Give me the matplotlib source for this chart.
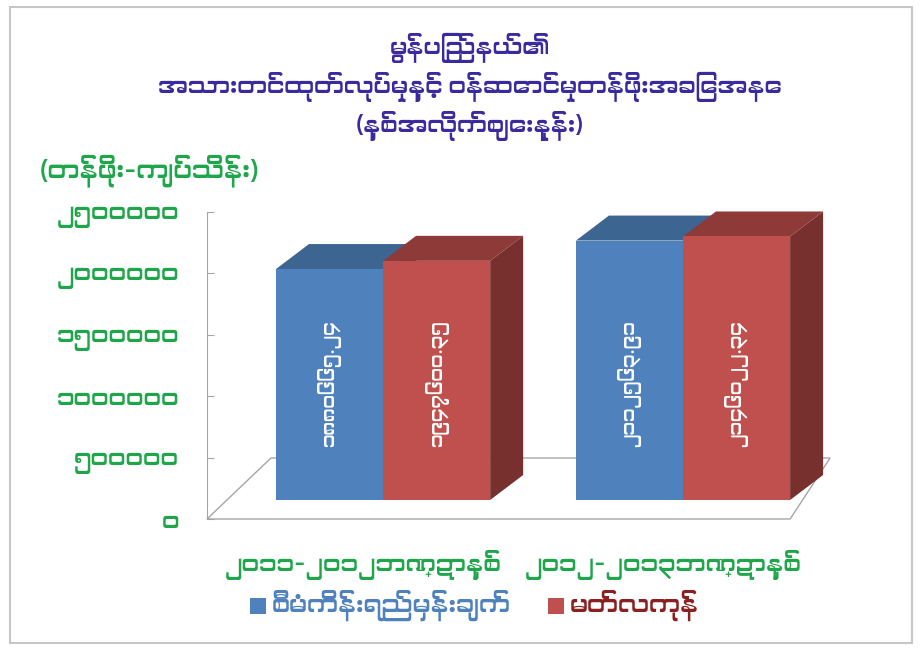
import matplotlib
matplotlib.use("Agg")
import matplotlib.pyplot as plt
from matplotlib import font_manager
from matplotlib.patches import Polygon, Rectangle

# Myanmar text needs a Myanmar-capable font; use one if the system has it
mm_fonts = sorted({f.name for f in font_manager.fontManager.ttflist
                   if any(k in f.name for k in ("Myanmar", "Padauk", "Pyidaungsu", "Zawgyi"))})
FAMILY = mm_fonts + ["DejaVu Sans"]
plt.rcParams["font.family"] = FAMILY

TITLE = "မွန်ပြည်နယ်၏\nအသားတင်ထုတ်လုပ်မှုနှင့် ဝန်ဆောင်မှုတန်ဖိုးအခြေအနေ\n(နှစ်အလိုက်ဈေးနှုန်း)"
UNIT_LABEL = "(တန်ဖိုး-ကျပ်သိန်း)"
CATEGORIES = ["၂၀၁၁-၂၀၁၂ဘဏ္ဍာနှစ်", "၂၀၁၂-၂၀၁၃ဘဏ္ဍာနှစ်"]
SERIES_NAMES = ["စီမံကိန်းရည်မှန်းချက်", "မတ်လကုန်"]
PLAN = [1880665.24, 2112563.91]
ACTUAL = [1947600.35, 2146022.34]
YTICKS = [0, 500000, 1000000, 1500000, 2000000, 2500000]

MM_DIGITS = str.maketrans("0123456789", "၀၁၂၃၄၅၆၇၈၉")


def to_mm(v, fmt="{:.0f}"):
    return fmt.format(v).translate(MM_DIGITS)


GREEN = "#1FA64A"
TITLE_COLOR = "#3A2A9E"
FRONT = ["#4F81BD", "#C0504D"]
TOP = ["#3C6591", "#8E3A38"]
SIDE = ["#34567D", "#77302E"]
LEGEND_TEXT = ["#4F81BD", "#8B2020"]

W, H = 922, 650
fig = plt.figure(figsize=(W / 100, H / 100), dpi=100)
fig.patches.append(Rectangle((10 / W, 7 / H), 902 / W, 636 / H, transform=fig.transFigure,
                             fill=False, ec="#C6C6C6", lw=1.5))

# axes box: front-left axis at x=207px, floor front edge at y=519px, 2.5M at y=212px
ax = fig.add_axes([207 / W, (H - 519) / H, (830 - 207) / W, (519 - 212) / H])
ax.set_xlim(-0.587, 1.49)
ax.set_ylim(0, 2500000)

px_y = 2500000 / (519 - 212)      # value units per pixel
px_x = 1 / 300                    # category units per pixel
bar_w = 0.357
base = 19 * px_y                  # bars stand back from the floor front edge
dep_x, dep_y = 33 * px_x, 25 * px_y   # bar depth offset

# floor
floor_dx, floor_dy = 40 * px_x, 61 * px_y
x0, x1 = -0.587, 1.357
floor = [(x0, 0), (x1, 0), (x1 + floor_dx, floor_dy), (x0 + floor_dx * 1.6, floor_dy)]
ax.add_patch(Polygon(floor, closed=True, fill=False, ec="#A6A6A6", lw=1, clip_on=False))

centers = range(len(CATEGORIES))
for ci in centers:
    for si, vals in enumerate([PLAN, ACTUAL]):
        v = vals[ci]
        left = ci - bar_w + si * bar_w
        right = left + bar_w
        top = base + v
        side = [(right, base), (right + dep_x, base + dep_y), (right + dep_x, top + dep_y), (right, top)]
        lid = [(left, top), (right, top), (right + dep_x, top + dep_y), (left + dep_x, top + dep_y)]
        ax.add_patch(Polygon(side, closed=True, fc=SIDE[si], ec="none", clip_on=False))
        ax.add_patch(Polygon(lid, closed=True, fc=TOP[si], ec="none", clip_on=False))
        ax.bar(left, v, width=bar_w, bottom=base, align="edge", color=FRONT[si],
               edgecolor="none", clip_on=False, label=SERIES_NAMES[si] if ci == 0 else None)
        ax.text(left + bar_w / 2, base + 950000, to_mm(v, "{:.2f}"), rotation=90,
                ha="center", va="center", color="white", fontsize=13.5, family=FAMILY)

for s in ("top", "right", "bottom"):
    ax.spines[s].set_visible(False)
ax.spines["left"].set_color("#A6A6A6")
ax.set_yticks(YTICKS)
ax.set_yticklabels([to_mm(t) for t in YTICKS])
ax.tick_params(axis="y", direction="in", length=5, color="#A6A6A6", pad=20,
               labelsize=17.5, labelcolor=GREEN)
ax.set_xticks([c - 20 * px_x for c in centers])
ax.set_xticklabels(CATEGORIES)
ax.tick_params(axis="x", length=0, pad=22, labelsize=17.5, labelcolor=GREEN)
ax.patch.set_alpha(0)

fig.text(470 / W, 1 - 87 / H, TITLE, ha="center", va="center", fontsize=17.3,
         fontweight="bold", color=TITLE_COLOR, linespacing=1.42)
fig.text(40 / W, 1 - 171 / H, UNIT_LABEL, ha="left", va="center", fontsize=18.5,
         color=GREEN)

# legend: coloured squares with series-coloured text
for si, (lx, name) in enumerate(zip([250, 548], SERIES_NAMES)):
    fig.patches.append(Rectangle((lx / W, 1 - 614 / H), 16 / W, 16 / H,
                                 transform=fig.transFigure, fc=FRONT[si], ec="none"))
    fig.text((lx + 22) / W, 1 - 605 / H, name, ha="left", va="center", fontsize=18,
             fontweight="bold", color=LEGEND_TEXT[si])

fig.savefig("out.png", dpi=100)
